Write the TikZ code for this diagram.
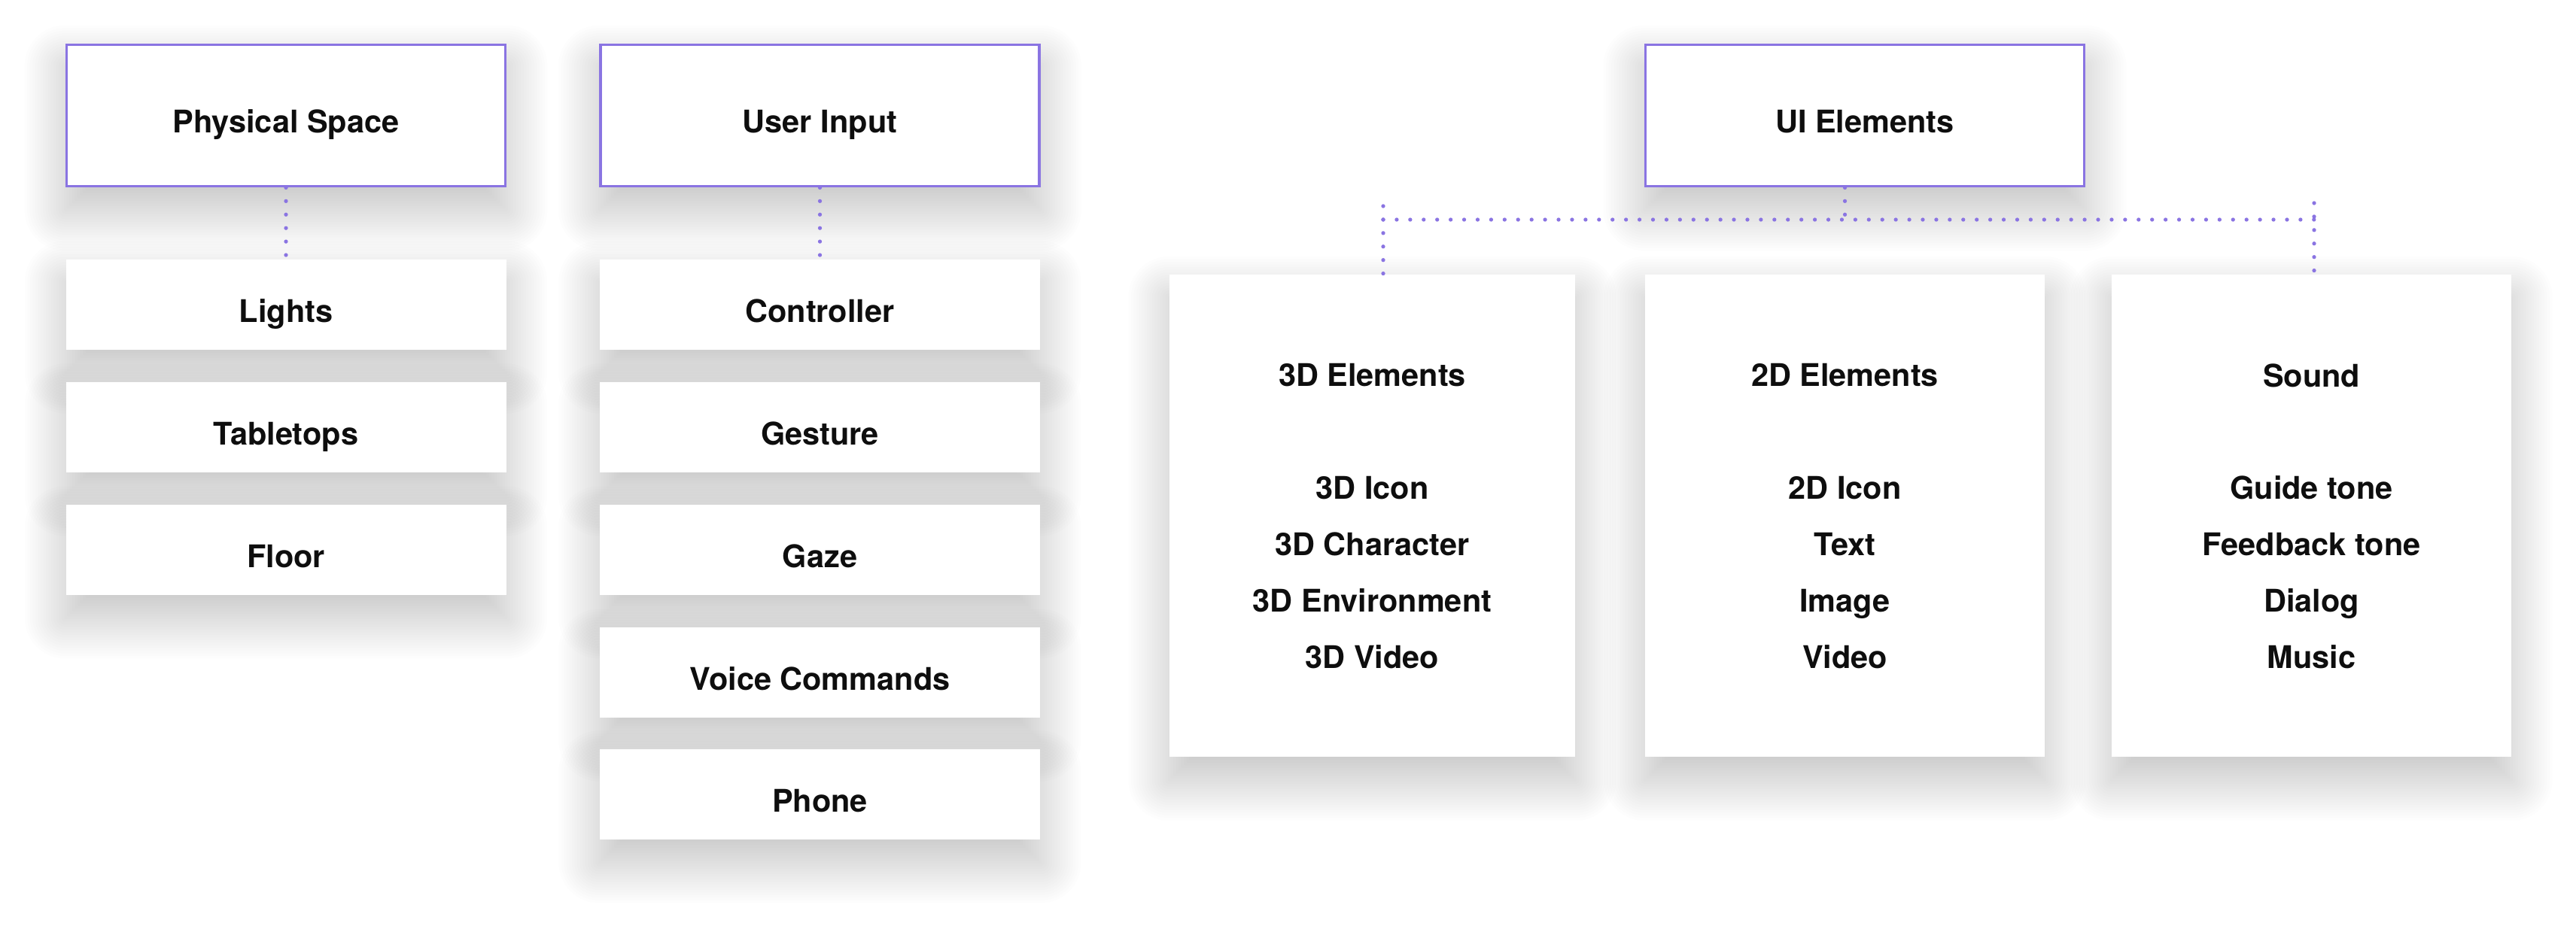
\documentclass[tikz,border=0pt]{standalone}
\usepackage{fontspec}
\setmainfont{TeX Gyre Heros}
\usetikzlibrary{backgrounds,calc}

\definecolor{uiviolet}{RGB}{138,116,226}
\definecolor{inktext}{RGB}{14,14,14}

\tikzset{
    headbox/.style={draw=uiviolet, line width=1.1pt, fill=white,
        minimum width=5.83cm, minimum height=1.88cm, text height=13.1pt, text depth=0pt},
    itembox/.style={fill=white, minimum width=5.85cm, minimum height=1.2cm,
        text height=13.1pt, text depth=0pt},
    groupbox/.style={fill=white, align=center, minimum height=6.41cm},
    link/.style={draw=uiviolet, line width=1.5pt, line cap=round, dash pattern=on 0pt off 5.1pt},
    shadowlayer/.style={fill=black, opacity=0.0072}
}

\begin{document}
\begin{tikzpicture}[font=\fontsize{11.8pt}{21.3pt}\selectfont\bfseries, text=inktext]
    \useasboundingbox (0,0) rectangle (34.23,-12.31);

    % headers
    \node[headbox] (phys) at (3.80, -1.535) { Physical Space };
    \node[headbox] (inp)  at (10.895, -1.535) { User Input };
    \node[headbox] (ui)   at (24.78, -1.535) { UI Elements };

    % physical space
    \node[itembox] (ps1) at (3.80, -4.05) { Lights };
    \node[itembox] (ps2) at (3.80, -5.68) { Tabletops };
    \node[itembox] (ps3) at (3.80, -7.31) { Floor };

    % user input
    \node[itembox] (in1) at (10.895, -4.05) { Controller };
    \node[itembox] (in2) at (10.895, -5.68) { Gesture };
    \node[itembox] (in3) at (10.895, -7.31) { Gaze };
    \node[itembox] (in4) at (10.895, -8.94) { Voice Commands };
    \node[itembox] (in5) at (10.895, -10.56) { Phone };

    % ui elements
    \node[groupbox, minimum width=5.39cm] (el3d) at (18.235, -6.86)
        { 3D Elements\\[21.3pt] 3D Icon\\ 3D Character\\ 3D Environment\\ 3D Video };
    \node[groupbox, minimum width=5.31cm] (el2d) at (24.515, -6.86)
        { 2D Elements\\[21.3pt] 2D Icon\\ Text\\ Image\\ Video };
    \node[groupbox, minimum width=5.31cm] (snd) at (30.715, -6.86)
        { Sound\\[21.3pt] Guide tone\\ Feedback tone\\ Dialog\\ Music };

    \coordinate (barl) at (18.38, -2.92);
    \coordinate (barr) at (30.75, -2.92);

    \draw[link] (phys) -- (ps1);
    \draw[link] (inp) -- (in1);
    \draw[link] (barl) -- (barr);
    \draw[link] (ui.south -| el2d) -- (el2d |- barl);
    \draw[link] ([yshift=0.18cm]barl) -- (barl |- el3d.north);
    \draw[link] ([yshift=0.22cm]barr) -- (barr |- snd.north);

    % soft shadows
    \begin{scope}[on background layer]
        \fill[white] (0,0) rectangle (34.23,-12.31);
        \foreach \boxname in {phys,inp,ui,ps1,ps2,ps3,in1,in2,in3,in4,in5,el3d,el2d,snd}{
            \foreach \lyr in {0,...,24}{
                \pgfmathsetmacro{\grow}{-0.3+0.035*\lyr}
                \pgfmathsetmacro{\crad}{max(0.02,\grow)}
                \fill[shadowlayer, rounded corners=\crad cm]
                    ($(\boxname.south west)+(-\grow,-\grow-0.3)$) rectangle
                    ($(\boxname.north east)+(\grow,\grow-0.3)$);
            }
        }
    \end{scope}

\end{tikzpicture}
\end{document}
